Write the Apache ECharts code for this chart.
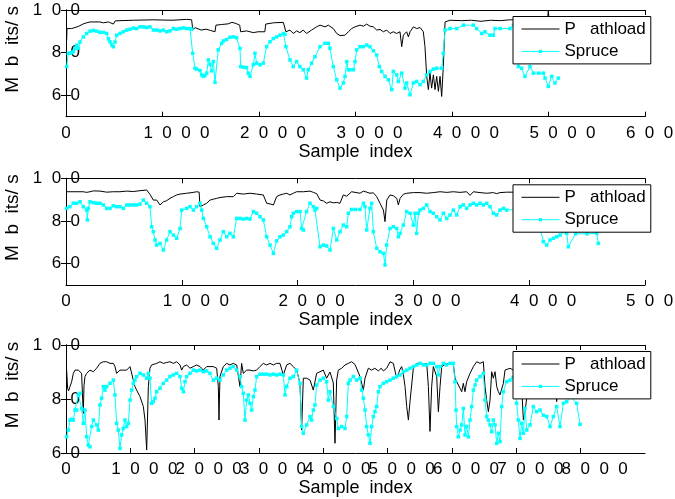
<!DOCTYPE html>
<html lang="en">
<head>
    <meta charset="UTF-8">
    <title>Pathload vs Spruce</title>
    <script src="https://cdn.jsdelivr.net/npm/echarts@6/dist/echarts.min.js"></script>
    <style>
        html, body { margin: 0; padding: 0; background: #fff; }
        #chart { width: 675px; height: 499px; }
    </style>
</head>
<body>
<div id="chart"></div>
<script>
// sample index, Mbits/s
var pathload1 = [[7,86],[10,91.3],[59,91.3],[76,92.0],[128,92.3],[180,93.5],[214,94.0],[249,94.4],[352,94.4],[387,94.0],[440,94.4],[491,93.4],[505,92.6],[510,94.9],[560,95.0],[700,95.2],[900,95.4],[1100,95.2],[1250,95.6],[1302,95.4],[1313,90.9],[1340,91.7],[1400,90.6],[1450,91.0],[1500,90.4],[1544,89.8],[1554,92.9],[1613,93.2],[1680,93.5],[1720,94.2],[1760,93.7],[1800,92.9],[1810,89.8],[1872,90.2],[1941,89.4],[1990,89.8],[2060,89.8],[2070,93.4],[2150,94.0],[2252,94.2],[2269,93.7],[2279,89.8],[2321,90.6],[2355,89.0],[2390,90.2],[2424,89.4],[2459,90.6],[2493,89.0],[2511,88.2],[2545,90.6],[2597,92.1],[2632,92.9],[2684,92.1],[2718,92.9],[2770,91.3],[2805,89.0],[2840,88.0],[2857,87.4],[2891,88.2],[2926,89.8],[2960,91.3],[2995,92.1],[3047,92.9],[3081,92.4],[3116,93.4],[3150,92.4],[3185,92.1],[3220,90.6],[3254,90.9],[3289,89.8],[3323,90.6],[3358,89.0],[3392,89.8],[3427,89.0],[3461,89.8],[3479,82.8],[3496,88.2],[3530,89.8],[3548,87.4],[3565,89.8],[3600,92.1],[3634,91.3],[3669,91.8],[3703,89.8],[3720,82.8],[3738,68.9],[3755,62.7],[3772,70.4],[3789,63.4],[3807,69.6],[3824,62.7],[3841,68.9],[3859,61.9],[3876,68.9],[3893,59.5],[3910,73.5],[3928,94.4],[3979,95.2],[4100,95.0],[4200,95.2],[4300,94.7],[4400,95.2],[4500,95.0],[4600,95.4],[4700,95.4],[4800,95.6],[4900,95.4],[4990,95.8],[4998,99.5],[5006,95.8],[5100,95.6]];
var spruce1 = [[7,73.5],[24,79.7],[41,79.7],[59,80],[76,80.5],[93,82],[111,83.5],[128,82.1],[145,85],[180,87.4],[214,89],[249,90.1],[283,90.4],[318,90.1],[352,89.5],[387,89.5],[422,89.0],[440,86.5],[456,85.1],[474,83.6],[491,82.8],[508,85],[525,88.2],[560,89],[594,89.8],[629,90.6],[663,91.0],[698,91.5],[732,91.3],[767,92.1],[801,92.1],[836,91.8],[870,92.1],[905,90.6],[940,90.6],[974,90.2],[1009,90.6],[1043,89.8],[1078,90.2],[1112,91.3],[1147,91.0],[1181,91.3],[1216,91.6],[1250,91.3],[1285,91.3],[1302,91.0],[1313,79.7],[1337,72.7],[1354,72.3],[1388,71.6],[1406,69.6],[1423,68.9],[1440,69.3],[1458,70.4],[1475,76.6],[1492,74.5],[1509,71.5],[1527,75.8],[1544,66.1],[1578,81.3],[1613,84.4],[1630,85.5],[1665,86.2],[1699,87.2],[1734,87.4],[1768,87.0],[1803,82],[1810,73.5],[1838,73.2],[1872,73.0],[1889,70.4],[1907,68.9],[1941,74.3],[1958,79.7],[1976,75.1],[2010,74.3],[2045,75.1],[2079,82.8],[2114,85.1],[2148,86.6],[2183,87.4],[2217,88.2],[2252,89],[2269,88.6],[2279,82.8],[2321,76.6],[2355,73.5],[2390,75.8],[2424,73.5],[2459,72.0],[2493,68.1],[2511,72.0],[2545,75.1],[2580,78.1],[2632,82.8],[2684,84.4],[2718,84.4],[2735,82.1],[2770,73.5],[2805,67.3],[2840,63.4],[2874,65.8],[2891,68.9],[2909,75.8],[2926,72],[2943,72],[2978,72],[2995,75.8],[3012,81.3],[3047,82.8],[3081,82.8],[3116,83.6],[3150,82.8],[3185,80.9],[3220,78.9],[3247,73.5],[3271,71.2],[3306,68.9],[3340,67.3],[3375,62.7],[3392,71.2],[3427,69.6],[3444,66.5],[3479,70.4],[3513,63.4],[3530,65.8],[3565,60.3],[3600,65.8],[3634,66.5],[3669,65],[3703,66.5],[3738,69.6],[3772,71.2],[3807,72.3],[3841,72.7],[3893,72.7],[3910,79.7],[3928,90.6],[3979,91.3],[4048,91.3],[4118,92.9],[4221,92.9],[4256,91.3],[4308,89],[4342,89.8],[4394,88.2],[4428,88.2],[4446,91.3],[4498,91.3],[4601,91.3],[4636,92.9],[4660,84],[4688,73.5],[4722,72.7],[4756,68.9],[4808,73.5],[4843,70.4],[4900,70.4],[4947,70.4],[4964,68.1],[4998,64.2],[5033,68.9],[5067,65.8],[5102,68.1]];

var pathload2 = [[6,93.7],[150,93.7],[178,93.4],[193,93.0],[207,93.7],[236,94.1],[294,94.0],[351,93.5],[409,93.7],[466,93.7],[524,94.0],[581,93.8],[639,94.2],[697,94.5],[725,92.5],[754,89.8],[783,89.8],[812,87.5],[841,89.0],[869,89.5],[898,90.6],[927,91.4],[956,92.2],[985,92.6],[1042,93.0],[1100,93.4],[1128,93.7],[1150,93.5],[1157,86.7],[1186,87.5],[1215,88.3],[1244,89.8],[1272,90.2],[1301,90.6],[1330,91.0],[1388,91.4],[1445,91.4],[1474,93.0],[1531,92.6],[1589,93.0],[1647,92.6],[1704,92.2],[1733,88.3],[1762,88.0],[1791,87.5],[1819,91.4],[1848,92.2],[1877,92.6],[1906,93.0],[1934,92.2],[1963,93.0],[1992,93.7],[2050,93.7],[2107,94.0],[2136,93.4],[2165,92.8],[2194,89.8],[2222,89.4],[2251,88.3],[2280,89.0],[2309,88.5],[2337,88.7],[2366,88.3],[2395,92.2],[2424,91.6],[2467,93.7],[2539,93.0],[2568,94.0],[2582,93.2],[2597,93.5],[2625,93.0],[2654,93.2],[2683,91.4],[2712,88.3],[2741,85.1],[2755,79.7],[2770,89.8],[2798,92.2],[2827,91.8],[2856,90.6],[2870,87.5],[2885,90.6],[2913,92.5],[2942,93.0],[3000,93.3],[3057,93.3],[3115,93.0],[3172,93.3],[3230,93.7],[3288,93.4],[3345,93.7],[3403,93.4],[3460,93.7],[3489,92.0],[3518,93.7],[3575,93.3],[3633,93.0],[3691,93.3],[3719,92.8],[3748,93.3],[3806,93.5],[4000,93.5],[4200,93.5],[4400,93.5],[4597,93.3]];
var spruce2 = [[6,85.9],[34,86.7],[63,88.3],[92,88.3],[121,89.0],[150,86.7],[178,85.1],[184,80.5],[193,85.9],[207,89.0],[236,88.6],[265,88.3],[294,88.3],[322,87.5],[351,85.9],[380,85.9],[409,87.1],[438,86.7],[466,86.7],[495,85.9],[524,87.5],[553,87.5],[581,87.5],[610,87.5],[639,87.9],[668,89.8],[697,88.3],[725,86.7],[740,77.3],[754,75.0],[769,71.1],[783,68.7],[812,69.5],[841,66.4],[869,71.1],[898,75.0],[927,73.4],[956,71.9],[985,76.5],[999,85.1],[1042,85.9],[1071,86.7],[1100,85.1],[1128,86.7],[1157,88.3],[1172,85.1],[1186,81.2],[1215,77.3],[1244,72.6],[1272,69.5],[1301,67.2],[1330,71.1],[1359,75.0],[1388,72.6],[1416,74.2],[1445,72.6],[1474,81.2],[1503,81.2],[1531,80.9],[1560,81.2],[1589,80.9],[1618,84.4],[1647,83.6],[1675,82.0],[1704,80.5],[1733,72.6],[1762,68.7],[1791,64.8],[1819,70.7],[1848,72.6],[1877,73.4],[1906,75.0],[1934,77.3],[1949,82.0],[1963,83.6],[1992,84.4],[2021,84.4],[2035,76.5],[2050,75.8],[2078,84.4],[2107,88.3],[2136,86.7],[2150,85.1],[2165,85.9],[2194,67.9],[2222,68.7],[2251,68.3],[2280,66.4],[2309,76.5],[2338,71.1],[2366,75.0],[2395,78.1],[2424,77.3],[2438,83.6],[2467,85.4],[2500,85.4],[2539,85.4],[2568,88.3],[2582,86.7],[2597,75.8],[2625,85.9],[2640,88.3],[2654,75.0],[2683,67.2],[2712,65.6],[2741,64.8],[2755,59.4],[2769,68.7],[2798,76.5],[2827,77.3],[2856,76.5],[2870,72.6],[2885,74.2],[2913,78.1],[2942,84.4],[2971,83.6],[3000,78.1],[3014,83.6],[3028,74.2],[3043,83.6],[3057,85.1],[3086,85.9],[3115,87.5],[3144,84.4],[3172,83.6],[3201,82.0],[3230,80.5],[3259,83.6],[3288,81.2],[3316,82.8],[3345,85.1],[3374,82.8],[3403,86.7],[3431,87.5],[3460,85.9],[3489,87.5],[3518,88.3],[3547,87.5],[3575,88.3],[3604,87.5],[3633,88.3],[3662,86.7],[3691,83.6],[3719,82.8],[3748,85.1],[3777,85.9],[3806,85.1],[3900,85.5],[4000,85],[4080,80],[4122,70.3],[4151,68.7],[4180,71.1],[4209,71.9],[4238,72.6],[4266,73.4],[4295,75.0],[4324,74.2],[4338,67.9],[4400,74],[4500,74],[4583,74.2],[4597,69.5]];

var pathload3 = [[10,90.7],[25,84],[40,83],[62,84.6],[88,86.4],[114,89.5],[140,90.7],[166,90.4],[192,90.7],[217,90.4],[243,89.5],[255,82],[269,74.7],[280,85],[295,88.3],[321,89.5],[347,90.1],[373,90.7],[399,90.7],[425,90.1],[450,90.7],[476,91.4],[502,92.0],[528,93.2],[554,93.2],[580,93.8],[606,93.5],[632,93.8],[684,93.2],[736,93.2],[761,92.0],[787,89.5],[813,90.1],[839,90.7],[865,90.4],[891,90.7],[917,90.1],[943,90.7],[969,91.4],[995,92.0],[1021,92.0],[1046,87.0],[1072,84.6],[1098,83.3],[1150,80.9],[1202,77.2],[1228,72.2],[1254,61.1],[1280,84.6],[1305,91.4],[1331,92.6],[1357,93.2],[1409,93.2],[1461,93.8],[1513,93.2],[1565,93.5],[1616,93.8],[1668,93.2],[1720,93.8],[1772,92.6],[1798,90.7],[1824,92.0],[1850,91.4],[1876,92.6],[1927,91.4],[1979,92.0],[2031,92.6],[2083,92.0],[2134,90.7],[2186,92.0],[2238,92.0],[2290,92.0],[2342,91.4],[2368,84.6],[2378,72.2],[2393,88.3],[2445,92.0],[2497,93.2],[2549,92.6],[2601,93.2],[2653,92.6],[2704,84.6],[2730,93.2],[2756,89.5],[2808,90.7],[2860,90.7],[2912,90.4],[2963,90.7],[3015,92.0],[3067,93.2],[3119,92.6],[3171,93.2],[3222,92.6],[3274,93.2],[3326,93.2],[3378,88.9],[3430,92.6],[3482,93.2],[3533,92.0],[3585,90.7],[3637,85.8],[3663,68.5],[3689,87.7],[3741,87.7],[3793,87.0],[3844,83.3],[3896,89.5],[3948,90.1],[4000,90.7],[4051,87.7],[4103,90.0],[4155,86.0],[4181,63.6],[4207,87.0],[4233,90.7],[4285,91.4],[4337,92.6],[4389,93.2],[4440,93.8],[4492,92.8],[4570,88.3],[4622,83.3],[4648,87.7],[4700,91.4],[4752,90.7],[4800,91.4],[4855,90.4],[4900,91.4],[4933,90.4],[4985,91.4],[5037,93.8],[5088,93.2],[5140,87.7],[5192,91.0],[5218,92.0],[5244,89.0],[5270,84.6],[5296,77.2],[5322,72.2],[5347,79.0],[5399,91.4],[5451,93.2],[5555,92.9],[5607,93.2],[5633,84.6],[5658,68.0],[5684,84.6],[5710,92.0],[5762,88.3],[5788,75.3],[5814,84.6],[5840,92.0],[5917,93.2],[6021,92.9],[6047,87.7],[6099,85.2],[6151,82.7],[6176,85.8],[6202,82.7],[6228,86.4],[6280,89.5],[6332,92.0],[6384,93.8],[6435,93.2],[6487,93.8],[6513,84.6],[6539,79.6],[6565,75.3],[6591,79.6],[6617,90.1],[6643,87.7],[6669,90.1],[6695,84.6],[6721,82.7],[6746,81.5],[6798,85.8],[6824,90.7],[6850,91.4],[6902,91.4],[7000,90],[7080,86],[7109,72.2],[7135,75.3],[7200,88],[7300,90],[7400,88],[7500,90],[7600,86],[7627,79.0],[7660,88],[7800,90],[7900,88],[8000,88]];
var spruce3 = [[10,66.0],[36,68.5],[62,72.2],[88,72.5],[114,72.2],[140,75.9],[166,75.9],[192,81.5],[217,82.1],[243,76.5],[269,71.0],[295,75.9],[321,66.0],[347,62.9],[373,62.3],[399,69.8],[425,72.2],[476,70.4],[502,68.5],[528,77.8],[554,80.3],[580,84.6],[606,83.3],[632,84.6],[684,85.8],[736,87.0],[761,81.5],[787,71.0],[813,68.5],[839,61.7],[865,66.7],[891,69.1],[917,72.2],[943,69.8],[969,71.0],[995,79.6],[1021,83.3],[1046,85.8],[1072,87.0],[1098,88.3],[1150,89.5],[1202,88.9],[1254,87.7],[1280,89.5],[1305,87.7],[1331,78.4],[1357,79.0],[1383,80.3],[1409,82.7],[1461,84.0],[1513,85.8],[1565,87.0],[1616,88.3],[1668,88.9],[1720,89.5],[1772,88.3],[1798,84.0],[1824,82.7],[1850,86.4],[1876,88.3],[1927,89.5],[1979,90.7],[2031,90.4],[2083,90.7],[2134,90.1],[2186,90.4],[2238,89.5],[2290,87.0],[2342,87.7],[2393,87.0],[2445,88.9],[2497,90.7],[2549,91.4],[2601,92.0],[2653,90.7],[2704,88.3],[2730,84.6],[2756,82.1],[2782,72.2],[2808,79.6],[2834,81.5],[2860,78.4],[2886,75.9],[2912,80.9],[2938,83.3],[2963,88.3],[3015,89.2],[3067,89.2],[3119,89.2],[3171,88.9],[3222,89.2],[3274,88.9],[3326,89.2],[3378,88.9],[3404,81.5],[3430,84.6],[3482,87.7],[3533,88.3],[3585,90.7],[3637,85.8],[3663,69.8],[3689,67.3],[3741,70.4],[3793,73.5],[3818,72.2],[3844,75.9],[3870,77.8],[3896,85.2],[3948,87.0],[4000,87.7],[4051,86.4],[4077,79.6],[4103,82.7],[4156,77.2],[4208,72.8],[4234,69.1],[4285,69.8],[4337,69.1],[4363,73.5],[4389,85.8],[4415,87.0],[4467,88.3],[4518,87.0],[4570,87.7],[4596,83.3],[4622,80.3],[4648,75.9],[4674,69.8],[4700,66.7],[4726,63.6],[4752,69.8],[4778,73.5],[4803,75.3],[4829,77.2],[4855,82.7],[4881,84.6],[4933,85.8],[4985,86.4],[5037,87.0],[5088,87.7],[5140,88.3],[5192,88.9],[5244,90.1],[5296,90.7],[5347,91.4],[5399,92.0],[5451,92.6],[5503,93.2],[5555,92.6],[5607,92.6],[5658,93.2],[5710,93.2],[5762,92.0],[5788,88.9],[5814,92.0],[5866,93.2],[5917,92.6],[5969,93.2],[6021,93.2],[6047,86.4],[6062,75.9],[6073,69.8],[6099,66.0],[6125,68.5],[6151,70.4],[6176,76.5],[6202,66.7],[6228,69.8],[6254,66.0],[6280,72.2],[6306,77.2],[6332,83.3],[6358,85.2],[6384,87.0],[6435,88.3],[6487,89.5],[6513,79.6],[6539,73.5],[6565,72.2],[6591,70.4],[6617,67.9],[6643,72.2],[6669,70.4],[6695,63.6],[6721,67.3],[6746,64.2],[6772,77.2],[6798,82.7],[6850,86.4],[6902,87.0],[6950,88],[7005,78.4],[7031,72.2],[7057,65.4],[7083,71.0],[7109,67.3],[7135,76.5],[7161,68.5],[7213,70.4],[7264,77.2],[7316,75.3],[7368,75.9],[7420,74],[7472,73.5],[7524,69.8],[7575,73.5],[7627,77.2],[7679,69.8],[7731,78.4],[7783,79.0],[7835,80.9],[7938,78.4],[7990,70.6]];

var xMax = [6000, 5000, 9000];
var yMin = [50, 50, 60];
var yTicks = [[60, 80, 100], [60, 80, 100], [60, 80, 100]];
var pathloadData = [pathload1, pathload2, pathload3];
var spruceData = [spruce1, spruce2, spruce3];

var gridTop = [10, 178.3, 345];
var gridH = [106.7, 106.7, 108];
var font = 'Liberation Sans, Arial, sans-serif';

function spaced(v) {
    return String(v).split('').join('  ');
}

var grids = [], xAxes = [], yAxes = [], series = [], legends = [];
for (var i = 0; i < 3; i++) {
    grids.push({ left: 66, top: gridTop[i], width: 579, height: gridH[i], containLabel: false, outerBoundsMode: 'none' });
    var lineSt = { show: true, lineStyle: { color: '#000', width: 1 } };
    var tickSt = { show: true, inside: true, length: 5, lineStyle: { color: '#000', width: 1 } };
    xAxes.push({
        type: 'value', gridIndex: i, position: 'bottom', min: 0, max: xMax[i], interval: 1000,
        axisLine: lineSt, axisTick: tickSt, splitLine: { show: false },
        name: 'Sample  index', nameLocation: 'middle', nameGap: 25,
        nameTextStyle: { fontFamily: font, fontSize: 18, color: '#000' },
        axisLabel: {
            margin: 8,
            formatter: function (v) { return v === 0 ? '{z|0}' : '{n|' + spaced(v) + '}'; },
            rich: {
                z: { fontFamily: font, fontSize: 17, color: '#000' },
                n: { fontFamily: font, fontSize: 17, color: '#000', padding: [0, 0, 0, 28] }
            }
        }
    });
    xAxes.push({
        type: 'value', gridIndex: i, position: 'top', min: 0, max: xMax[i], interval: 1000,
        axisLine: lineSt, axisTick: tickSt, axisLabel: { show: false }, splitLine: { show: false }
    });
    yAxes.push({
        type: 'value', gridIndex: i, position: 'left', min: yMin[i], max: 100, interval: 10,
        axisLine: lineSt, splitLine: { show: false },
        axisTick: Object.assign({ customValues: yTicks[i] }, tickSt),
        axisLabel: {
            customValues: yTicks[i], margin: -14, align: 'right', padding: [5, 0, 0, 0],
            fontFamily: font, fontSize: 17, color: '#000', formatter: spaced
        },
        name: 'M  b  its/ s', nameLocation: 'middle', nameGap: 37,
        nameTextStyle: { fontFamily: font, fontSize: 19, color: '#000', padding: [0, 0, 0, 28] }
    });
    yAxes.push({
        type: 'value', gridIndex: i, position: 'right', min: yMin[i], max: 100, interval: 10,
        axisLine: lineSt, splitLine: { show: false },
        axisTick: Object.assign({ customValues: yTicks[i] }, tickSt),
        axisLabel: { show: false }
    });
    series.push({
        name: 'Pathload', type: 'line', xAxisIndex: 2 * i, yAxisIndex: 2 * i,
        data: pathloadData[i], symbol: 'none', animation: false,
        lineStyle: { color: '#000', width: 1 }, itemStyle: { color: '#000' }
    });
    series.push({
        name: 'Spruce', type: 'line', xAxisIndex: 2 * i, yAxisIndex: 2 * i,
        data: spruceData[i], symbol: 'rect', symbolSize: 3.5, showAllSymbol: true, animation: false,
        lineStyle: { color: '#00ffff', width: 1 }, itemStyle: { color: '#00ffff' }
    });
    legends.push({
        data: [{ name: 'Pathload', itemStyle: { opacity: 0 } }, 'Spruce'],
        orient: 'vertical', left: 513, top: gridTop[i] + 6.5,
        itemWidth: 38, itemHeight: 4, itemGap: 5.4, padding: [4, 5, 4, 8],
        backgroundColor: '#fff', borderColor: '#000', borderWidth: 1, borderRadius: 0,
        selectedMode: false,
        lineStyle: { width: 1 },
        formatter: function (n) { return n === 'Pathload' ? 'P   athload' : n; },
        textStyle: { fontFamily: font, fontSize: 17, color: '#000', lineHeight: 17, width: 70, overflow: 'none' }
    });
}

var myChart = echarts.init(document.getElementById('chart'));
myChart.setOption({
    backgroundColor: '#fff',
    animation: false,
    grid: grids,
    xAxis: xAxes,
    yAxis: yAxes,
    legend: legends,
    series: series
});
</script>
</body>
</html>
